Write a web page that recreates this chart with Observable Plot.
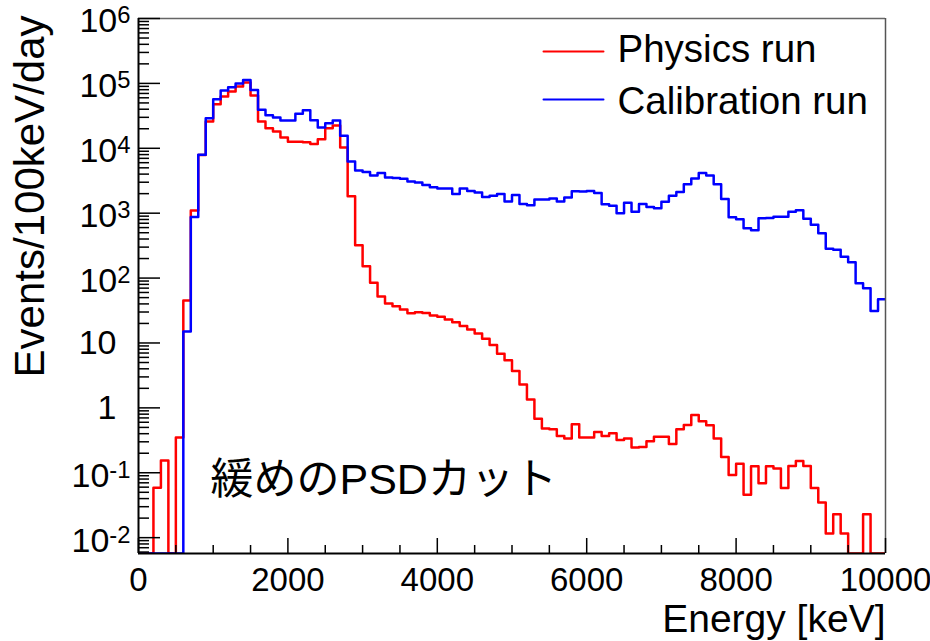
<!DOCTYPE html>
<html>
<head>
<meta charset="utf-8">
<script src="https://cdn.jsdelivr.net/npm/d3@7"></script>
<script src="https://cdn.jsdelivr.net/npm/@observablehq/plot@0.6"></script>
<style>
  html, body { margin: 0; padding: 0; background: #fff; }
  #chart svg { display: block; }
</style>
</head>
<body>
<div id="chart"></div>
<script>
// ---------- data (100 keV bins, 0–10000 keV); 0 = empty bin ----------
const binWidth = 100;
const physicsRun = [
  0, 0, 0.059, 0.155, 0, 0.35, 45, 1100, 7900, 25900,
  47800, 62700, 74900, 89300, 103000, 65000, 25900, 20400, 18100, 14700,
  12600, 12600, 12400, 11600, 13800, 20400, 22500, 10300, 1820, 320,
  152, 85, 52, 40.5, 36.9, 32.8, 28.8, 29.8, 29, 26.5,
  25.3, 23, 20.9, 18.2, 16.1, 14, 11.6, 9.3, 6.8, 5.4,
  3.7, 2.3, 1.35, 0.68, 0.48, 0.47, 0.37, 0.336, 0.557, 0.348,
  0.348, 0.425, 0.37, 0.405, 0.32, 0.336, 0.244, 0.25, 0.305, 0.36,
  0.36, 0.278, 0.467, 0.544, 0.776, 0.62, 0.54, 0.336, 0.175, 0.0927,
  0.138, 0.046, 0.126, 0.069, 0.126, 0.116, 0.058, 0.127, 0.152, 0.127,
  0.058, 0.0348, 0.0116, 0.023, 0.0116, 0, 0, 0.023, 0, 0
];
const calibrationRun = [
  0, 0, 0, 0, 0, 0, 15, 870, 7940, 29100,
  57100, 77600, 87300, 99400, 113000, 79400, 39100, 32400, 29800, 26800,
  26800, 34000, 38700, 27000, 20900, 24400, 26800, 15600, 6270, 4560,
  4300, 3820, 4150, 3560, 3470, 3390, 3090, 2980, 2710, 2500,
  2410, 2410, 1970, 2410, 2190, 2090, 1770, 1860, 1970, 1520,
  1900, 1380, 1320, 1630, 1620, 1690, 1520, 1750, 2170, 2150,
  2190, 2040, 1370, 1300, 994, 1450, 1050, 1380, 1240, 1190,
  1500, 1860, 2120, 2780, 3430, 4150, 3820, 2780, 1650, 863,
  803, 584, 545, 833, 844, 884, 884, 1050, 1105, 823,
  665, 490, 284, 274, 214, 175, 83, 70, 31, 47
];
const seriesNames = ["Physics run", "Calibration run"];
const seriesColors = ["#ff0000", "#0000ff"];
const xTickValues = [0, 2000, 4000, 6000, 8000, 10000];
const yDecadeValues = [1e-2, 1e-1, 1, 10, 1e2, 1e3, 1e4, 1e5, 1e6];
const yPlainLabels = [1, 10];
const xTitle = "Energy [keV]";
const yTitle = "Events/100keV/day";
const annotation = "緩めのPSDカット";

// ---------- layout ----------
const W = 930, H = 641;
const mL = 138, mR = 45, mT = 18, mB = 88;
const fw = W - mL - mR, fh = H - mT - mB;
const xMax = 10000;
const yMin = 0.0057, yMax = 1e6;
const FONT = "'Liberation Sans', Arial, Helvetica, sans-serif";

function steps(vals) {
  const pts = vals.map((v, i) => ({x: i * binWidth, y: v > 0 ? v : yMin}));
  pts.push({x: vals.length * binWidth, y: pts[pts.length - 1].y});
  return pts;
}
const yMinor = [];
for (let e = -3; e <= 5; e++) for (let k = 2; k <= 9; k++) {
  const v = k * Math.pow(10, e);
  if (v >= yMin && v <= yMax) yMinor.push(v);
}
const xMinor = d3.range(0, xMax + 1, 500).filter(v => v % 2000 !== 0);
const ySupLabels = yDecadeValues.filter(v => !yPlainLabels.includes(v));

const lineShape = {draw(ctx, l) { ctx.moveTo(0, 0); ctx.lineTo(0, -l); }};

const chart = Plot.plot({
  width: W, height: H,
  marginLeft: mL, marginRight: mR, marginTop: mT, marginBottom: mB,
  x: {domain: [0, xMax], axis: null},
  y: {type: "log", domain: [yMin, yMax], axis: null},
  style: {fontFamily: FONT, background: "#fff", color: "#000", overflow: "visible"},
  marks: [
    Plot.line(steps(physicsRun), {x: "x", y: "y", curve: "step-after", stroke: seriesColors[0], strokeWidth: 2.5, clip: true}),
    Plot.line(steps(calibrationRun), {x: "x", y: "y", curve: "step-after", stroke: seriesColors[1], strokeWidth: 2.5, clip: true}),
    // frame
    Plot.ruleY([yMax], {stroke: "#666", strokeWidth: 1.5}),
    Plot.ruleX([xMax], {stroke: "#555", strokeWidth: 1.5}),
    Plot.ruleX([0], {stroke: "#000", strokeWidth: 2}),
    Plot.ruleY([yMin], {stroke: "#000", strokeWidth: 2}),
    // inward ticks
    Plot.tickY(yDecadeValues, {y: d => d, insetRight: fw - 22, stroke: "#000", strokeWidth: 1.5}),
    Plot.tickY(yMinor, {y: d => d, insetRight: fw - 11, stroke: "#000", strokeWidth: 1.5}),
    Plot.tickX(xTickValues, {x: d => d, insetTop: fh - 15, stroke: "#000", strokeWidth: 1.5}),
    Plot.tickX(xMinor, {x: d => d, insetTop: fh - 8, stroke: "#000", strokeWidth: 1.5}),
    // tick labels
    Plot.text(xTickValues, {x: d => d, frameAnchor: "bottom", dy: 37, lineAnchor: "bottom", text: d => String(d), fontSize: 33, fill: "#000"}),
    Plot.text(yPlainLabels, {y: d => d, frameAnchor: "left", dx: -22, textAnchor: "end", lineAnchor: "middle", text: d => String(d), fontSize: 34, fill: "#000"}),
    Plot.text(ySupLabels, {y: d => d, frameAnchor: "left", dx: -8, dy: 3, textAnchor: "end", lineAnchor: "middle", text: d => "10^" + Math.round(Math.log10(d)), fontSize: 34, fill: "#000"}),
    // axis titles
    Plot.text([xTitle], {frameAnchor: "bottom-right", dy: 78, textAnchor: "end", lineAnchor: "bottom", fontSize: 39, fill: "#000"}),
    Plot.text([yTitle], {frameAnchor: "top-left", dx: -124, dy: -3, rotate: -90, textAnchor: "end", lineAnchor: "top", fontSize: 42, fill: "#000"}),
    // legend
    ...seriesNames.map((name, i) => Plot.vector([name], {frameAnchor: "top-left", dx: 405, dy: 33 + 48 * i, length: 60, rotate: 90, anchor: "start", shape: lineShape, stroke: seriesColors[i], strokeWidth: 2})),
    ...seriesNames.map((name, i) => Plot.text([name], {frameAnchor: "top-left", dx: 479, dy: 43 + 52 * i, textAnchor: "start", lineAnchor: "bottom", fontSize: 38.5, fill: "#000"})),
    // annotation
    Plot.text([annotation], {frameAnchor: "bottom-left", dx: 72, dy: -60, textAnchor: "start", lineAnchor: "bottom", fontSize: 43, fill: "#000", fontFamily: "'Liberation Sans', 'Noto Sans CJK JP', sans-serif"})
  ]
});

// superscript exponents for 10^n labels
d3.select(chart).selectAll("text").filter(function () { return /^10\^/.test(this.textContent); }).each(function () {
  const [base, exp] = this.textContent.split("^");
  const sel = d3.select(this);
  sel.text(null);
  sel.append("tspan").text(base);
  sel.append("tspan").attr("font-size", "0.7em").attr("dy", "-0.38em").text(exp);
});

document.getElementById("chart").appendChild(chart);
</script>
</body>
</html>
